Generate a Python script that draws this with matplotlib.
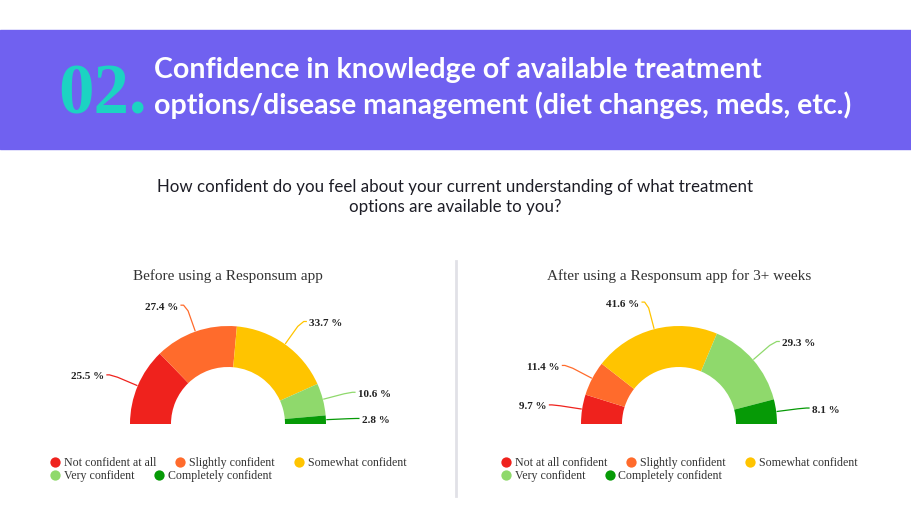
import numpy as np
import matplotlib.pyplot as plt

# data
categories_before = ['Not confident at all', 'Slightly confident', 'Somewhat confident',
                     'Very confident', 'Completely confident']
categories_after = ['Not at all confident', 'Slightly confident', 'Somewhat confident',
                    'Very confident', 'Completely confident']
values_before = [25.5, 27.4, 33.7, 10.6, 2.8]
values_after = [9.7, 11.4, 41.6, 29.3, 8.1]
colors = ['#ef221d', '#ff6b2c', '#ffc400', '#8fd96c', '#069a06']

title_before = 'Before using a Responsum app'
title_after = 'After using a Responsum app for 3+ weeks'
headline = ['Confidence in knowledge of available treatment',
            'options/disease management (diet changes, meds, etc.)']
question = ('How confident do you feel about your current understanding of what treatment\n'
            'options are available to you?')

W, H = 911, 520
fig = plt.figure(figsize=(W / 100, H / 100), dpi=100)
ax = fig.add_axes([0, 0, 1, 1])

serif = 'Liberation Serif'
sans = 'Lato'


def Y(y):
    # top-down pixel -> axes y
    return H - y


def reset_limits():
    ax.set_xlim(0, W)
    ax.set_ylim(0, H)
    ax.set_aspect('auto')


reset_limits()

# banner
ax.add_patch(plt.Rectangle((0, Y(149)), W, 119, color='#7061f0', zorder=0))
ax.text(58, Y(113), '02.', color='#1cd3c2', fontsize=51, family=serif,
        fontweight='bold', va='baseline', ha='left')
ax.text(154, Y(78), headline[0], color='white', fontsize=20.5, family=sans,
        fontweight='bold', va='baseline')
ax.text(154, Y(114), headline[1], color='white', fontsize=20.5, family=sans,
        fontweight='bold', va='baseline')

ax.text(455, Y(197), question, color='#1d1d26', fontsize=12.2, family=sans,
        ha='center', va='center', linespacing=1.25)

# divider
ax.plot([456, 456], [Y(261), Y(496)], color='#e1e1e7', lw=2)

renderer = fig.canvas.get_renderer()


def donut(cx, cy, values, cats, title, legend_x):
    R, width = 98, 41
    total = sum(values)
    ax.pie(values + [total], colors=colors + ['none'], startangle=180,
           counterclock=False, radius=R, center=(cx, Y(cy)),
           wedgeprops=dict(width=width, linewidth=0))
    reset_limits()
    ax.text(cx, Y(276), title, family=serif, fontsize=11, color='#333333',
            ha='center', va='center')
    # labels with curved-ish leader lines
    cum = 0
    for v, c in zip(values, colors):
        mid = np.deg2rad(180 - (cum + v / 2) / total * 180)
        cum += v
        x0, y0 = cx + (R + 1) * np.cos(mid), Y(cy) + (R + 1) * np.sin(mid)
        x1, y1 = cx + (R + 22) * np.cos(mid), Y(cy) + (R + 22) * np.sin(mid)
        x15, y15 = cx + (R + 28) * np.cos(mid), Y(cy) + (R + 28) * np.sin(mid)
        side = 1 if np.cos(mid) >= 0 else -1
        x2 = x15 + side * 5
        ax.plot([x0, x1, (x15 + x2) / 2, x2], [y0, y1, y15, y15], color=c, lw=0.9)
        ax.text(x2 + side * 3, y15 - 2, f'{v} %', family=serif, fontsize=8,
                fontweight='bold', color='#222222',
                ha='left' if side > 0 else 'right', va='center')
    # legend, flow layout in two rows
    rows = [cats[:3], cats[3:]]
    k = 0
    for r, row in enumerate(rows):
        x = legend_x
        y = Y(462 + 13 * r)
        for name in row:
            ax.scatter([x], [y], s=55, color=colors[k], zorder=3, linewidths=0)
            t = ax.text(x + 9, y - 1, name, family=serif, fontsize=8.6,
                        color='#333333', va='center', ha='left')
            bb = t.get_window_extent(renderer)
            x = bb.x1 + 24
            k += 1


donut(228, 424, values_before, categories_before, title_before, 55)
donut(679, 424, values_after, categories_after, title_after, 506)

reset_limits()
ax.axis('off')

fig.savefig('out.png', dpi=100)
